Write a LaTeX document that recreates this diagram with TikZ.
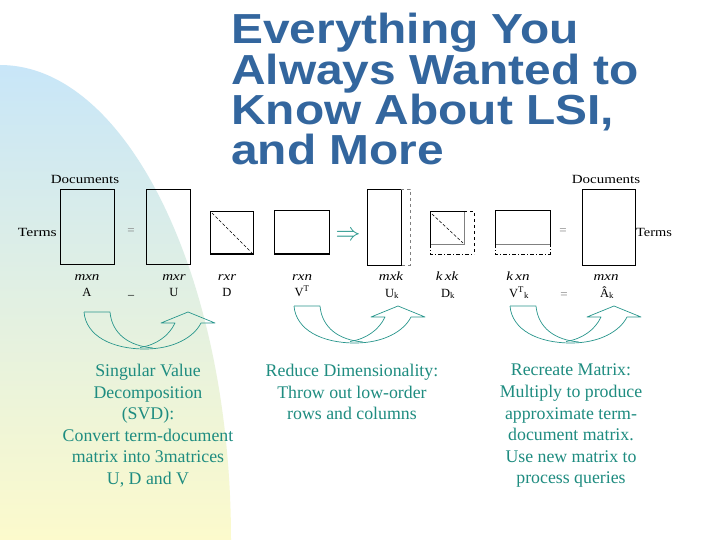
\documentclass[tikz,border=0pt]{standalone}
\usepackage{fontspec}
\setmainfont{Liberation Serif}
\newfontfamily\titlefont{Liberation Sans}
\usepackage{graphicx}
\definecolor{titleblue}{RGB}{51,102,158}
\definecolor{tealtxt}{RGB}{30,140,128}
\definecolor{tealline}{RGB}{40,150,140}
\definecolor{bgblue}{RGB}{200,230,248}
\definecolor{bgmid}{RGB}{226,242,230}
\definecolor{bgyel}{RGB}{252,250,204}
\newcommand{\wide}[1]{\scalebox{1.2}[1]{#1}}
\newcommand{\twide}[1]{\scalebox{1.14}[1]{#1}}
\begin{document}
\begin{tikzpicture}[x=1pt,y=-1pt,
  mat/.style={draw=black, line width=0.8pt, inner sep=0pt, outer sep=0pt, anchor=north west},
  lab/.style={font=\fontsize{12.5}{13}\selectfont, inner sep=0pt},
  dimlab/.style={font=\fontsize{12.5}{13}\selectfont\itshape, inner sep=0pt, anchor=base},
  namelab/.style={font=\fontsize{12.5}{13}\selectfont, inner sep=0pt, anchor=base},
  eqsign/.style={text=gray, font=\fontsize{13}{13}\selectfont, inner sep=0pt},
  titleline/.style={text=titleblue, font=\titlefont\bfseries\fontsize{42}{42}\selectfont, inner sep=0pt, anchor=base west},
  desc/.style={text=tealtxt, font=\fontsize{17.8}{21.6}\selectfont, align=center, inner sep=0pt, anchor=north},
  diag/.style={densely dashed, line width=0.6pt},
  extdash/.style={dashed, line width=0.7pt},
  extdashdot/.style={dash pattern=on 4pt off 2pt on 1pt off 2pt, line width=0.8pt},
  carrow/.pic={
    \draw[tealline, line width=0.7pt, line join=round]
      (0,0) .. controls (2,24) and (28,37) .. (61,37)
      .. controls (90,37) and (110,25) .. (117,11)
      -- (131,11) -- (104,0) -- (77,11) -- (91,11)
      .. controls (85,24) and (72,33) .. (56,35.5);
    \draw[tealline, line width=0.7pt, line join=round]
      (0,0) -- (26,0) .. controls (28,22) and (45,34) .. (69,36);
  }
]
\useasboundingbox (0,0) rectangle (720,540);
\fill[white] (0,0) rectangle (720,540);
% background decoration
\shade[top color=bgblue, middle color=bgmid, bottom color=bgyel]
  (0,540) -- (0,65) .. controls (127,65) and (231,277.7) .. (231,540) -- cycle;

% title
\node[titleline] (t1) at (231,44) {\twide{Everything You}};
\node[titleline] (t2) at (231,84.5) {\twide{Always Wanted to}};
\node[titleline] (t3) at (231,125) {\twide{Know About LSI,}};
\node[titleline] (t4) at (231,165) {\twide{and More}};

% matrices
\node[mat, minimum width=54pt, minimum height=75pt] (A) at (60,189) {};
\node[mat, minimum width=44pt, minimum height=75pt] (U) at (146,189) {};
\node[mat, minimum width=43pt, minimum height=43pt] (D) at (210,211) {};
\draw[line width=1.4pt] (D.south west) -- (D.south east);
\draw[diag] ([shift={(2,2)}]D.north west) -- ([shift={(-1,-1)}]D.south east);
\node[mat, minimum width=55pt, minimum height=44pt] (VT) at (274,210) {};
\draw[line width=1.4pt] (VT.south west) -- (VT.south east);
\node[text=tealline, font=\fontsize{24}{24}\selectfont, inner sep=0pt] (impl) at (348,236) {$\Rightarrow$};
\node[mat, minimum width=34pt, minimum height=76pt] (Uk) at (367,189) {};
\draw[extdash, gray] (Uk.north east) -- ++(9,0) -- ++(0,76) -- (Uk.south east);
\node[mat, draw=none, minimum width=34pt, minimum height=33pt] (Dk) at (430,211) {};
\draw[line width=0.8pt] (Dk.south west) -- (Dk.north west) -- (Dk.north east);
\draw[line width=0.8pt, gray] (Dk.north east) -- (Dk.south east) -- (Dk.south west);
\draw[diag] ([shift={(2,3)}]Dk.north west) -- ([shift={(-1,-1)}]Dk.south east);
\draw[extdash] (Dk.north east) -- ++(10,0) -- ++(0,43);
\draw[extdashdot] (Dk.south west) -- ++(0,10) -- ++(44,0);
\node[mat, draw=none, minimum width=55pt, minimum height=34pt] (VTk) at (495,210) {};
\draw[line width=0.8pt] (VTk.south west) -- (VTk.north west) -- (VTk.north east) -- (VTk.south east);
\draw[line width=0.8pt, gray] (VTk.south west) -- (VTk.south east);
\draw[extdashdot] (VTk.south west) -- ++(0,10) -- ++(55,0) -- (VTk.south east);
\node[mat, minimum width=53pt, minimum height=76pt] (Ah) at (582,189) {};

% side labels
\node[lab] (docA) at (85,179) {\wide{Documents}};
\node[lab, anchor=east] (termsA) at (57,232) {\scalebox{1.25}[1]{Terms}};
\node[lab] (docAh) at (606,179) {\wide{Documents}};
\node[lab, anchor=west] (termsAh) at (636,232) {\scalebox{1.15}[1]{Terms}};
\node[eqsign] (eq1) at (131,232) {=};
\node[eqsign] (eq2) at (563,232) {=};
\node[eqsign] (eq3) at (564,296) {=};
\node[inner sep=0pt, font=\fontsize{12}{12}\selectfont] (us) at (131,295) {\_};

% dimension labels
\node[dimlab] (dA) at (87,280) {\wide{mxn}};
\node[dimlab] (dU) at (174,280) {\wide{mxr}};
\node[dimlab] (dD) at (227,280) {\wide{rxr}};
\node[dimlab] (dVT) at (302,280) {\wide{rxn}};
\node[dimlab] (dUk) at (391,280) {\wide{mxk}};
\node[dimlab] (dDk) at (447,280) {\wide{k\,xk}};
\node[dimlab] (dVTk) at (518,280) {\wide{k\,xn}};
\node[dimlab] (dAh) at (606,280) {\wide{mxn}};

% matrix names
\node[namelab] (nA) at (87,296) {A};
\node[namelab] (nU) at (174,296) {U};
\node[namelab] (nD) at (227,296) {D};
\node[namelab] (nVT) at (302,296) {V\textsuperscript{T}};
\node[namelab] (nUk) at (392,297) {U\textsubscript{k}};
\node[namelab] (nDk) at (448,297) {D\textsubscript{k}};
\node[namelab] (nVTk) at (519,297) {V\textsuperscript{T}\textsubscript{k}};
\node[namelab] (nAh) at (607,297) {Â\textsubscript{k}};

% curved arrows
\pic at (84,312) {carrow};
\pic at (294,306) {carrow};
\pic at (510,306) {carrow};

% descriptions
\node[desc] (svd) at (148,364) {Singular Value\\Decomposition\\(SVD):\\Convert term-document\\matrix into 3matrices\\U, D and V};
\node[desc] (red) at (352,364) {Reduce Dimensionality:\\Throw out low-order\\rows and columns};
\node[desc] (rec) at (571,364) {Recreate Matrix:\\Multiply to produce\\approximate term-\\document matrix.\\Use new matrix to\\process queries};
\end{tikzpicture}
\end{document}
